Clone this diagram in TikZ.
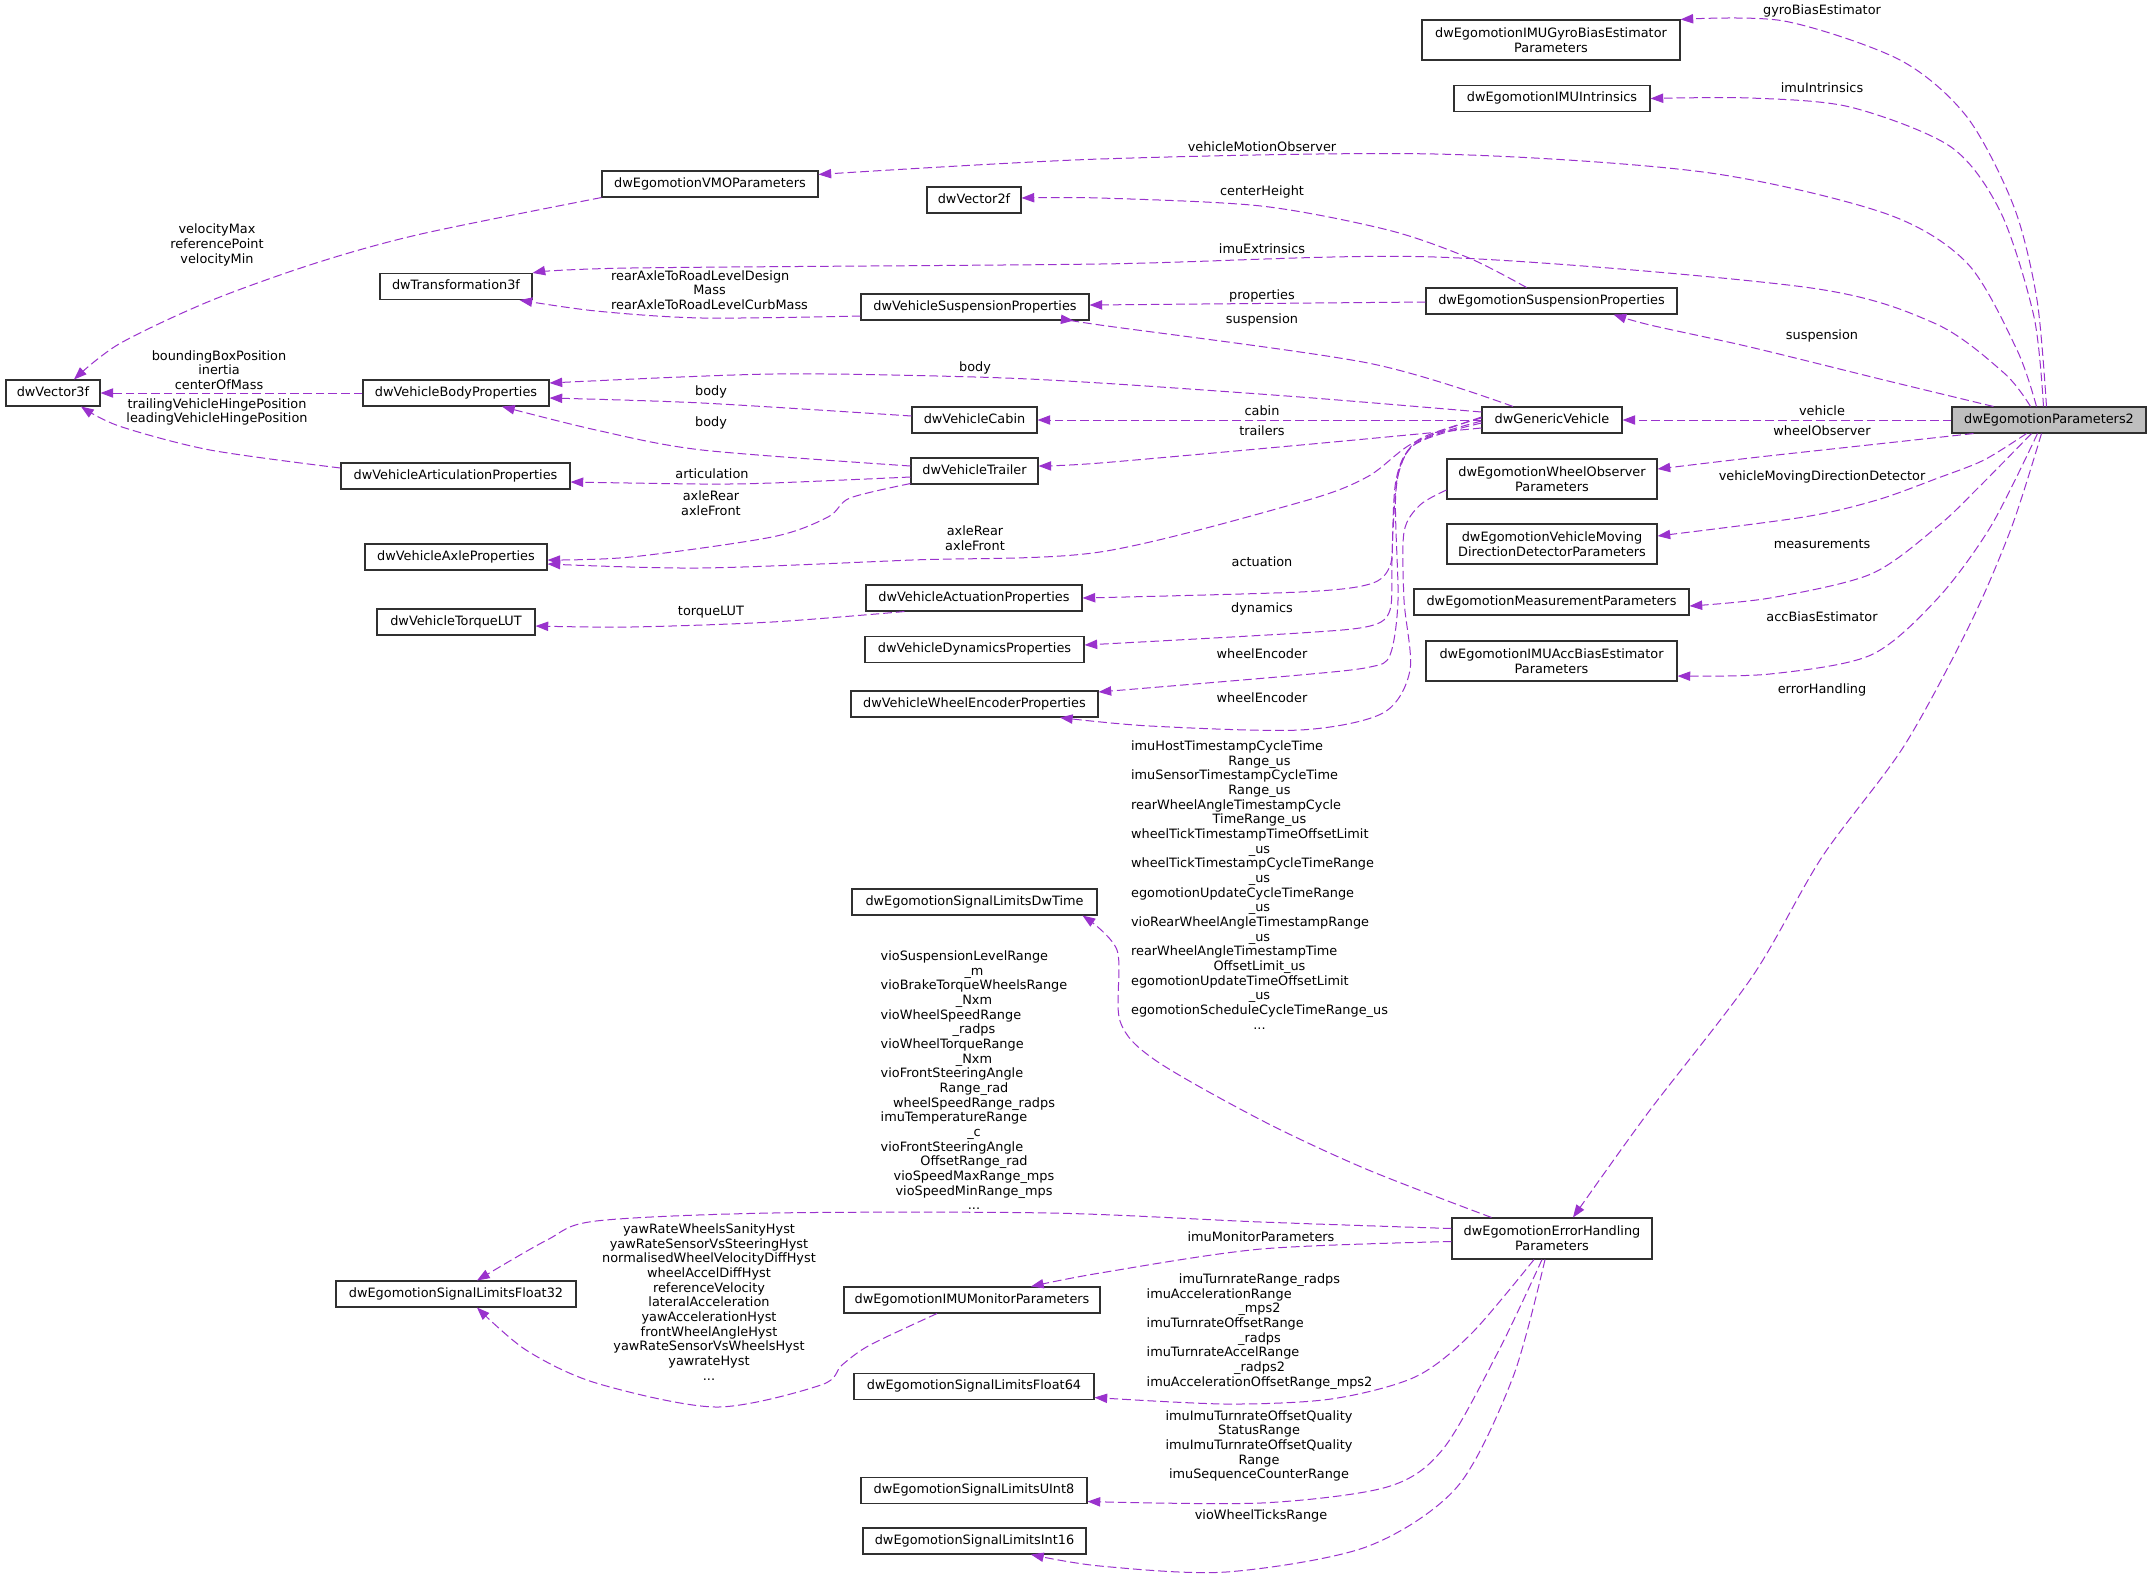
\documentclass[tikz,border=0pt]{standalone}
\usepackage{fontspec}
\setmainfont{DejaVu Sans}
\usetikzlibrary{arrows.meta,calc}
\definecolor{edgec}{HTML}{9A32CD}
\definecolor{bord}{HTML}{303030}
\definecolor{rootfill}{HTML}{BFBFBF}
\newcommand\nf{\fontsize{9.65}{11}\selectfont}
\newcommand\LL[2]{\makebox[0pt][l]{#2}\phantom{#1}}
\begin{document}
\begin{tikzpicture}[x=0.75pt,y=-0.75pt,
  cls/.style={draw=bord, line width=0.8pt, fill=white, inner sep=0pt, font=\nf, minimum height=19.5pt, text height=7pt, text depth=2pt},
  cls2/.style={draw=bord, line width=0.8pt, fill=white, inner sep=0pt, font=\nf, minimum height=30pt, align=center},
  lbl/.style={inner sep=0pt, font=\nf, align=center},
  dep/.style={draw=edgec, line width=0.75pt, dash pattern=on 6.5pt off 3pt, -{Triangle[length=9.5pt,width=7pt]}}]
\fill[white] (0,0) rectangle (2151,1579);
\path[use as bounding box] (0,0) rectangle (2151,1579);

% ---------- nodes ----------
\node[cls2, minimum width=193.5pt] (gyro) at (1551,40) {dwEgomotionIMUGyroBiasEstimator\\Parameters};
\node[cls, minimum width=147pt] (intr) at (1552,98.5) {dwEgomotionIMUIntrinsics};
\node[cls, minimum width=162pt] (vmo) at (710,184) {dwEgomotionVMOParameters};
\node[cls, minimum width=70.5pt] (v2f) at (974,200) {dwVector2f};
\node[cls, minimum width=114pt] (tr3) at (456,286.5) {dwTransformation3f};
\node[cls, minimum width=171pt] (vsusp) at (975,307) {dwVehicleSuspensionProperties};
\node[cls, minimum width=188.25pt] (esusp) at (1551.5,301) {dwEgomotionSuspensionProperties};
\node[cls, minimum width=70.5pt] (v3f) at (53,393) {dwVector3f};
\node[cls, minimum width=139.5pt] (body) at (456,393) {dwVehicleBodyProperties};
\node[cls, minimum width=93.75pt] (cabin) at (974.5,420) {dwVehicleCabin};
\node[cls, minimum width=105pt] (gv) at (1552,420) {dwGenericVehicle};
\node[cls, minimum width=145.5pt, fill=rootfill] (p2) at (2049,420) {dwEgomotionParameters2};
\node[cls, minimum width=95.25pt] (trailer) at (974.5,471) {dwVehicleTrailer};
\node[cls, minimum width=171.75pt] (art) at (455.5,476) {dwVehicleArticulationProperties};
\node[cls2, minimum width=157.5pt] (wo) at (1552,479) {dwEgomotionWheelObserver\\Parameters};
\node[cls2, minimum width=157.5pt] (mdd) at (1552,544) {dwEgomotionVehicleMoving\\DirectionDetectorParameters};
\node[cls, minimum width=136.5pt] (axle) at (456,557) {dwVehicleAxleProperties};
\node[cls, minimum width=162pt] (act) at (974,598) {dwVehicleActuationProperties};
\node[cls, minimum width=206.25pt] (meas) at (1551.5,602) {dwEgomotionMeasurementParameters};
\node[cls, minimum width=118.5pt] (torque) at (456,622) {dwVehicleTorqueLUT};
\node[cls, minimum width=164.25pt] (dyn) at (974.5,649.5) {dwVehicleDynamicsProperties};
\node[cls2, minimum width=188.25pt] (acc) at (1551.5,661) {dwEgomotionIMUAccBiasEstimator\\Parameters};
\node[cls, minimum width=185.25pt] (we) at (974.5,704) {dwVehicleWheelEncoderProperties};
\node[cls, minimum width=183.75pt] (dwtime) at (974.5,902) {dwEgomotionSignalLimitsDwTime};
\node[cls2, minimum width=150pt, minimum height=30.75pt] (eh) at (1552,1238.5) {dwEgomotionErrorHandling\\Parameters};
\node[cls, minimum width=180pt] (f32) at (456,1294) {dwEgomotionSignalLimitsFloat32};
\node[cls, minimum width=192pt] (mon) at (972,1300) {dwEgomotionIMUMonitorParameters};
\node[cls, minimum width=180pt] (f64) at (974,1386.5) {dwEgomotionSignalLimitsFloat64};
\node[cls, minimum width=169.5pt] (u8) at (974,1490.5) {dwEgomotionSignalLimitsUInt8};
\node[cls, minimum width=167.25pt] (i16) at (974.5,1541) {dwEgomotionSignalLimitsInt16};

% ---------- end points ----------
\coordinate (s_gyro) at ($(p2.north west)+(95,0)$);
\coordinate (s_intr) at ($(p2.north west)+(92,0)$);
\coordinate (s_vmo) at ($(p2.north west)+(85,0)$);
\coordinate (s_ext) at ($(p2.north west)+(79,0)$);
\coordinate (s_susp) at ($(p2.north west)+(42,0)$);
\coordinate (s_wo) at ($(p2.south west)+(22,0)$);
\coordinate (s_mdd) at ($(p2.south west)+(75,0)$);
\coordinate (s_meas) at ($(p2.south west)+(80,0)$);
\coordinate (s_acc) at ($(p2.south west)+(86,0)$);
\coordinate (s_err) at ($(p2.south west)+(90,0)$);
\coordinate (t_vmo) at ($(vmo.north east)+(0,4)$);
\coordinate (t_susp) at ($(esusp.south)+(62,0)$);
\coordinate (t_wo) at ($(wo.east)+(0,-10)$);
\coordinate (t_mdd) at ($(mdd.east)+(0,-8)$);
\coordinate (t_meas) at ($(meas.east)+(0,4)$);
\coordinate (t_acc) at ($(acc.east)+(0,15)$);
\coordinate (t_err) at ($(eh.north)+(21,0)$);
\coordinate (s_gvsusp) at ($(gv.north)+(-39,0)$);
\coordinate (t_gvsusp) at ($(vsusp.south east)+(-16,0)$);
\coordinate (s_gvbody) at ($(gv.west)+(0,-8)$);
\coordinate (t_gvbody) at ($(body.east)+(0,-10)$);
\coordinate (s_gvtr) at ($(gv.west)+(0,8)$);
\coordinate (t_gvtr) at ($(trailer.east)+(0,-5)$);
\coordinate (s_gvaxle) at ($(gv.west)+(0,-3)$);
\coordinate (t_gvaxle) at ($(axle.east)+(0,7)$);
\coordinate (s_act) at ($(gv.west)+(0,-2)$);
\coordinate (s_dyn) at ($(gv.west)+(0,1)$);
\coordinate (t_dyn) at ($(dyn.east)+(0,-4.5)$);
\coordinate (s_we1) at ($(gv.west)+(0,3)$);
\coordinate (t_we1) at ($(we.east)+(0,-12)$);
\coordinate (s_we2) at ($(wo.west)+(0,11)$);
\coordinate (t_we2) at ($(we.south)+(85.5,0)$);
\coordinate (s_ch) at ($(esusp.north)+(-25,0)$);
\coordinate (t_ch) at ($(v2f.east)+(0,-2)$);
\coordinate (s_prop) at ($(esusp.west)+(0,1)$);
\coordinate (t_prop) at ($(vsusp.east)+(0,-2)$);
\coordinate (s_rear) at ($(vsusp.west)+(0,9)$);
\coordinate (t_rear) at ($(tr3.south east)+(-13,0)$);
\coordinate (t_velo) at ($(v3f.north)+(21,0)$);
\coordinate (s_hinge) at ($(art.west)+(0,-8)$);
\coordinate (t_hinge) at ($(v3f.south)+(28,0)$);
\coordinate (s_cb) at ($(cabin.west)+(0,-4)$);
\coordinate (t_cb) at ($(body.east)+(0,5)$);
\coordinate (s_tb) at ($(trailer.west)+(0,-5)$);
\coordinate (t_tb) at ($(body.south)+(46,0)$);
\coordinate (s_ta) at ($(trailer.west)+(0,6)$);
\coordinate (t_ta) at ($(art.east)+(0,6)$);
\coordinate (s_tx) at ($(trailer.south west)+(0,-1)$);
\coordinate (t_tx) at ($(axle.east)+(0,3)$);
\coordinate (s_tq) at ($(act.south west)+(39,0)$);
\coordinate (t_tq) at ($(torque.east)+(0,4)$);
\coordinate (s_dw) at ($(eh.north west)+(40,0)$);
\coordinate (t_dw) at ($(dwtime.south east)+(-15,0)$);
\coordinate (s_f32) at ($(eh.west)+(0,-10)$);
\coordinate (t_f32) at ($(f32.north)+(21,0)$);
\coordinate (s_m32) at ($(mon.south)+(-35,0)$);
\coordinate (t_m32) at ($(f32.south)+(21,0)$);
\coordinate (s_mon) at ($(eh.west)+(0,3)$);
\coordinate (t_mon) at ($(mon.north)+(59,0)$);
\coordinate (s_f64) at ($(eh.south)+(-18,0)$);
\coordinate (t_f64) at ($(f64.east)+(0,11)$);
\coordinate (s_u8) at ($(eh.south)+(-10,0)$);
\coordinate (t_u8) at ($(u8.east)+(0,11)$);
\coordinate (s_i16) at ($(eh.south)+(-7,0)$);
\coordinate (t_i16) at ($(i16.south)+(56.5,0)$);

% ---------- edges ----------
\draw[dep] plot[smooth] coordinates {(s_gyro) (2037,300) (2014,207) (1967,117) (1900,60) (1784,21) (gyro.north east)};
\draw[dep] plot[smooth] coordinates {(s_intr) (2034,317) (2001,213) (1951,147) (1850,107) (1750,98) (intr.east)};
\draw[dep] plot[smooth] coordinates {(s_vmo) (2017,350) (1967,263) (1884,213) (1703,172) (1435,154) (1100,159) (t_vmo)};
\draw[dep] plot[smooth] coordinates {(s_ext) (2004,373) (1934,323) (1804,287) (1435,257) (1100,264) (631,268) (tr3.north east)};
\draw[dep] plot[smooth] coordinates {(s_susp) (1884,380) (1750,347) (1650,325) (t_susp)};
\draw[dep] (p2.west) -- (gv.east);
\draw[dep] plot[smooth] coordinates {(s_wo) (1850,447) (1750,458) (t_wo)};
\draw[dep] plot[smooth] coordinates {(s_mdd) (1984,460) (1938,478) (1877,500) (1804,517) (t_mdd)};
\draw[dep] plot[smooth] coordinates {(s_meas) (1978,488) (1938,526) (1871,574) (1770,598) (t_meas)};
\draw[dep] plot[smooth] coordinates {(s_acc) (1991,526) (1938,598) (1871,655) (1770,674) (t_acc)};
\draw[dep] plot[smooth] coordinates {(s_err) (2012,526) (1971,622) (1904,746) (1822,857) (1752,977) (1647,1114) (t_err)};

\draw[dep] plot[smooth] coordinates {(s_gvsusp) (1368,363) (1100,325) (t_gvsusp)};
\draw[dep] plot[smooth] coordinates {(s_gvbody) (1300,397) (1100,383) (975,377) (772,374) (t_gvbody)};
\draw[dep] (gv.west) -- (cabin.east);
\draw[dep] plot[smooth] coordinates {(s_gvtr) (1301,445) (1100,463) (t_gvtr)};
\draw[dep] plot[smooth] coordinates {(s_gvaxle) (1413,443) (1367,477) (1301,502) (1100,552) (912,560) (701,568) (t_gvaxle)};
\draw[dep] plot[smooth] coordinates {(s_act) (1418,440) (1398,475) (1393,530) (1390,566) (1370,584) (1300,592) (act.east)};
\draw[dep] plot[smooth] coordinates {(s_dyn) (1416,443) (1396,480) (1392,560) (1390,610) (1370,626) (1300,633) (t_dyn)};
\draw[dep] plot[smooth] coordinates {(s_we1) (1414,445) (1396,490) (1398,600) (1390,655) (1370,667) (1300,675) (t_we1)};
\draw[dep] plot[smooth] coordinates {(s_we2) (1420,505) (1404,532) (1404,600) (1410,670) (1383,713) (1300,730) (1150,726) (t_we2)};

\draw[dep] plot[smooth] coordinates {(s_ch) (1469,258) (1388,230) (1261,206) (1100,198) (t_ch)};
\draw[dep] (s_prop) -- (t_prop);
\draw[dep] plot[smooth] coordinates {(s_rear) (702,318) (596,311) (t_rear)};
\draw[dep] plot[smooth] coordinates {(vmo.south west) (421,234) (316,263) (210,301) (119,344) (t_velo)};
\draw[dep] (body.west) -- (v3f.east);
\draw[dep] plot[smooth] coordinates {(s_hinge) (210,450) (119,426) (t_hinge)};
\draw[dep] plot[smooth] coordinates {(s_cb) (702,403) (t_cb)};
\draw[dep] plot[smooth] coordinates {(s_tb) (702,450) (596,430) (t_tb)};
\draw[dep] plot[smooth] coordinates {(s_ta) (772,483) (702,484) (t_ta)};
\draw[dep] plot[smooth] coordinates {(s_tx) (850,498) (828,517) (772,537) (631,557) (t_tx)};
\draw[dep] plot[smooth] coordinates {(s_tq) (772,622) (631,627) (t_tq)};

\draw[dep] plot[smooth] coordinates {(s_dw) (1366,1169) (1261,1120) (1155,1060) (1120,1021) (1117,950) (t_dw)};
\draw[dep] plot[smooth] coordinates {(s_f32) (1261,1222) (1050,1213) (772,1213) (596,1221) (547,1240) (t_f32)};
\draw[dep] plot[smooth] coordinates {(s_m32) (870,1345) (842,1365) (821,1385) (716,1407) (596,1383) (526,1350) (t_m32)};
\draw[dep] plot[smooth] coordinates {(s_mon) (1261,1249) (1100,1273) (t_mon)};
\draw[dep] plot[smooth] coordinates {(s_f64) (1471,1334) (1415,1377) (1331,1399) (1226,1404) (t_f64)};
\draw[dep] plot[smooth] coordinates {(s_u8) (1499,1350) (1443,1449) (1387,1487) (1261,1503) (t_u8)};
\draw[dep] plot[smooth] coordinates {(s_i16) (1513,1377) (1457,1487) (1366,1547) (1226,1572) (1100,1566) (t_i16)};

% ---------- labels ----------
\node[lbl] (l_gyro) at (1822,11) {gyroBiasEstimator};
\node[lbl] (l_intr) at (1822,88) {imuIntrinsics};
\node[lbl] (l_vmo) at (1262,147) {vehicleMotionObserver};
\node[lbl] (l_ch) at (1262,192) {centerHeight};
\node[lbl] (l_ext) at (1262,249) {imuExtrinsics};
\node[lbl] (l_prop) at (1262,296) {properties};
\node[lbl] (l_susp1) at (1262,320) {suspension};
\node[lbl] (l_susp2) at (1822,336) {suspension};
\node[lbl] (l_cabin) at (1262,411) {cabin};
\node[lbl] (l_vehicle) at (1822,411) {vehicle};
\node[lbl] (l_trailers) at (1262,431) {trailers};
\node[lbl] (l_wo) at (1822,431) {wheelObserver};
\node[lbl] (l_mdd) at (1822,477) {vehicleMovingDirectionDetector};
\node[lbl] (l_meas) at (1822,544) {measurements};
\node[lbl] (l_act) at (1262,562) {actuation};
\node[lbl] (l_dyn) at (1262,609) {dynamics};
\node[lbl] (l_acc) at (1822,617) {accBiasEstimator};
\node[lbl] (l_we1) at (1262,654) {wheelEncoder};
\node[lbl] (l_err) at (1822,690) {errorHandling};
\node[lbl] (l_we2) at (1262,698) {wheelEncoder};
\node[lbl] (l_vel) at (217,245) {velocityMax\\referencePoint\\velocityMin};
\node[lbl] (l_rear) at (709.5,290) {\LL{rearAxleToRoadLevelCurbMass}{rearAxleToRoadLevelDesign}\\Mass\\rearAxleToRoadLevelCurbMass};
\node[lbl] (l_bb) at (219,370) {boundingBoxPosition\\inertia\\centerOfMass};
\node[lbl] (l_hinge) at (217,412) {trailingVehicleHingePosition\\leadingVehicleHingePosition};
\node[lbl] (l_body1) at (975,368) {body};
\node[lbl] (l_body2) at (711,392) {body};
\node[lbl] (l_body3) at (711,423) {body};
\node[lbl] (l_art) at (712,474) {articulation};
\node[lbl] (l_axle1) at (711,503.5) {axleRear\\axleFront};
\node[lbl] (l_axle2) at (975,538.5) {axleRear\\axleFront};
\node[lbl] (l_torque) at (711,612) {torqueLUT};
\node[lbl] (l_host) at (1259.5,885) {%
\LL{egomotionScheduleCycleTimeRange\_us}{imuHostTimestampCycleTime}\\Range\_us\\%
\LL{egomotionScheduleCycleTimeRange\_us}{imuSensorTimestampCycleTime}\\Range\_us\\%
\LL{egomotionScheduleCycleTimeRange\_us}{rearWheelAngleTimestampCycle}\\TimeRange\_us\\%
\LL{egomotionScheduleCycleTimeRange\_us}{wheelTickTimestampTimeOffsetLimit}\\\_us\\%
\LL{egomotionScheduleCycleTimeRange\_us}{wheelTickTimestampCycleTimeRange}\\\_us\\%
\LL{egomotionScheduleCycleTimeRange\_us}{egomotionUpdateCycleTimeRange}\\\_us\\%
\LL{egomotionScheduleCycleTimeRange\_us}{vioRearWheelAngleTimestampRange}\\\_us\\%
\LL{egomotionScheduleCycleTimeRange\_us}{rearWheelAngleTimestampTime}\\OffsetLimit\_us\\%
\LL{egomotionScheduleCycleTimeRange\_us}{egomotionUpdateTimeOffsetLimit}\\\_us\\%
egomotionScheduleCycleTimeRange\_us\\...};
\node[lbl] (l_vio) at (974,1080.3) {%
\LL{vioBrakeTorqueWheelsRange}{vioSuspensionLevelRange}\\\_m\\%
vioBrakeTorqueWheelsRange\\\_Nxm\\%
\LL{vioBrakeTorqueWheelsRange}{vioWheelSpeedRange}\\\_radps\\%
\LL{vioBrakeTorqueWheelsRange}{vioWheelTorqueRange}\\\_Nxm\\%
\LL{vioBrakeTorqueWheelsRange}{vioFrontSteeringAngle}\\Range\_rad\\%
wheelSpeedRange\_radps\\%
\LL{vioBrakeTorqueWheelsRange}{imuTemperatureRange}\\\_c\\%
\LL{vioBrakeTorqueWheelsRange}{vioFrontSteeringAngle}\\OffsetRange\_rad\\%
vioSpeedMaxRange\_mps\\vioSpeedMinRange\_mps\\...};
\node[lbl] (l_yaw) at (709,1302) {yawRateWheelsSanityHyst\\yawRateSensorVsSteeringHyst\\normalisedWheelVelocityDiffHyst\\wheelAccelDiffHyst\\referenceVelocity\\lateralAcceleration\\yawAccelerationHyst\\frontWheelAngleHyst\\yawRateSensorVsWheelsHyst\\yawrateHyst\\...};
\node[lbl] (l_imumon) at (1261,1237) {imuMonitorParameters};
\node[lbl] (l_turn) at (1259.5,1331.5) {imuTurnrateRange\_radps\\%
\LL{imuAccelerationOffsetRange\_mps2}{imuAccelerationRange}\\\_mps2\\%
\LL{imuAccelerationOffsetRange\_mps2}{imuTurnrateOffsetRange}\\\_radps\\%
\LL{imuAccelerationOffsetRange\_mps2}{imuTurnrateAccelRange}\\\_radps2\\%
imuAccelerationOffsetRange\_mps2};
\node[lbl] (l_qual) at (1259,1446) {imuImuTurnrateOffsetQuality\\StatusRange\\imuImuTurnrateOffsetQuality\\Range\\imuSequenceCounterRange};
\node[lbl] (l_ticks) at (1261,1516) {vioWheelTicksRange};
\end{tikzpicture}
\end{document}
